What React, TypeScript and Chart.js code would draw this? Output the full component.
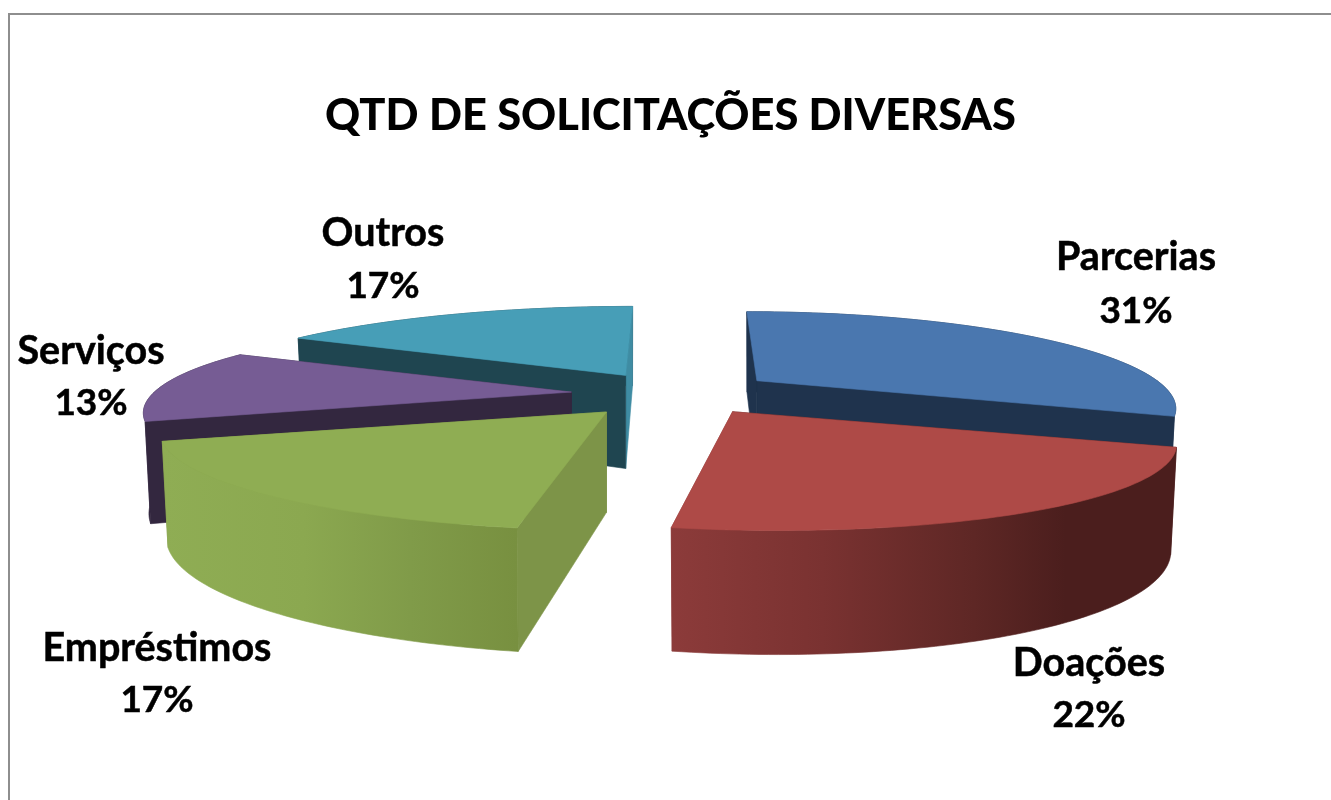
import React, { useEffect, useRef } from "react";
import { Chart, registerables } from "chart.js";

Chart.register(...registerables);

const categories = ["Parcerias", "Doações", "Empréstimos", "Serviços", "Outros"];
const shares = [31, 22, 17, 13, 17];
const chartTitle = "QTD DE SOLICITAÇÕES DIVERSAS";

// styles and 3D projection settings
const explode = [105, 130, 96, 99, 87];
const sliceLean = [0.145, 0.383, 0.176, 0.194, -0.1];
const sliceWiden = [0.953, 0.994, 1.033, 0.993, 1.015];
const sliceDrop = [1, -4, 5, 2, -1];
const topColors = ["#4A77AF", "#AE4A47", "#8FAD53", "#765C94", "#479EB7"];
const faceColors = [
  ["#1F334D", "#1F334D"],
  ["#4C1F1E", "#8A3A39"],
  ["#7D9448", "#7D9448"],
  ["#33273F", "#33273F"],
  ["#1F4550", "#3F8CA3"],
];
const wallStops: [number, string][][] = [
  [[0, "#1F334D"], [1, "#1F334D"]],
  [[0, "#8C3B3A"], [0.3, "#7A3231"], [0.6, "#5E2725"], [0.78, "#4B1E1D"], [1, "#4B1E1D"]],
  [[0, "#8FAD54"], [0.4, "#8BA850"], [0.7, "#809B49"], [1, "#789040"]],
  [[0, "#33273F"], [1, "#33273F"]],
  [[0, "#1F4550"], [1, "#1F4550"]],
];
const drawOrder = [4, 3, 0, 2, 1];
const labelAnchors = [
  [1136, 257, 311],
  [1089, 663, 715],
  [157, 648, 700],
  [91, 351, 403],
  [383, 233, 286],
];
const pivot = { x: 670, y: 392 };
const view = { radius: 420, tilt: 87.3, persp: 0.265, squash: 0.208 };

function locate(i: number, theta: number, rho: number, mid: number) {
  const off = explode[i];
  const ax = pivot.x + off * Math.sin(mid);
  const ay = pivot.y - off * Math.cos(mid) * view.squash + sliceDrop[i];
  const yn = -rho * Math.cos(theta);
  const w = 1 - view.persp * yn;
  const ly = (view.tilt * yn) / w;
  const lx = (sliceWiden[i] * view.radius * rho * Math.sin(theta)) / w + sliceLean[i] * ly;
  const top = { x: ax + lx, y: ay + ly };
  const h = 93 + (top.y - 375) * 0.2;
  const bottom = { x: ax + lx * 0.987, y: top.y + h };
  return { top, bottom };
}

function polygon(ctx: CanvasRenderingContext2D, pts: { x: number; y: number }[], fill: any) {
  ctx.beginPath();
  pts.forEach((p, n) => (n ? ctx.lineTo(p.x, p.y) : ctx.moveTo(p.x, p.y)));
  ctx.closePath();
  ctx.fillStyle = fill;
  ctx.strokeStyle = fill;
  ctx.lineWidth = 0.6;
  ctx.fill();
  ctx.stroke();
}

function samples(a: number, b: number) {
  const n = Math.max(2, Math.ceil(((b - a) * 180) / Math.PI));
  const out: number[] = [];
  for (let k = 0; k <= n; k++) out.push(a + ((b - a) * k) / n);
  return out;
}

const pie3d = {
  id: "pie3d",
  beforeDraw(chart: any) {
    const { ctx } = chart;
    ctx.save();
    ctx.fillStyle = "#ffffff";
    ctx.fillRect(0, 0, chart.width, chart.height);
    ctx.fillStyle = "#8E8E8E";
    ctx.fillRect(8, 13, chart.width - 8, 2);
    ctx.fillRect(8, 13, 2, chart.height - 13);
    ctx.restore();
  },
  beforeDatasetDraw() {
    return false;
  },
  afterDatasetsDraw(chart: any) {
    const { ctx } = chart;
    const arcs = chart.getDatasetMeta(0).data;
    ctx.save();
    drawOrder.forEach((i) => {
      const arc = arcs[i];
      const t0 = arc.startAngle + Math.PI / 2;
      const t1 = arc.endAngle + Math.PI / 2;
      const mid = (t0 + t1) / 2;
      const at = (t: number, rho = 1) => locate(i, t, rho, mid);
      const allX = samples(t0, t1).map((t) => at(t).top.x);
      const grad = ctx.createLinearGradient(Math.min(...allX), 0, Math.max(...allX), 0);
      wallStops[i].forEach(([s, c]) => grad.addColorStop(s, c));

      const cuts = [t0];
      [Math.PI / 2, (3 * Math.PI) / 2].forEach((c) => {
        if (c > t0 && c < t1) cuts.push(c);
      });
      cuts.push(t1);
      const ranges: [number, number][] = [];
      for (let k = 0; k < cuts.length - 1; k++) ranges.push([cuts[k], cuts[k + 1]]);
      const wall = ([a, b]: [number, number]) => {
        const s = samples(a, b);
        polygon(
          ctx,
          [...s.map((t) => at(t).top), ...s.slice().reverse().map((t) => at(t).bottom)],
          grad
        );
      };
      ranges.filter(([a, b]) => Math.cos((a + b) / 2) > 0).forEach(wall);

      const faces = [
        { t: t0, c: faceColors[i][0] },
        { t: t1, c: faceColors[i][1] },
      ].sort((p, q) => Math.cos(q.t) - Math.cos(p.t));
      faces.forEach(({ t, c }) => {
        polygon(ctx, [at(t, 0).top, at(t).top, at(t).bottom, at(t, 0).bottom], c);
      });

      ranges.filter(([a, b]) => Math.cos((a + b) / 2) <= 0).forEach(wall);

      const s = samples(t0, t1);
      polygon(ctx, [at(t0, 0).top, ...s.map((t) => at(t).top)], topColors[i]);
    });

    ctx.fillStyle = "#000000";
    ctx.strokeStyle = "#000000";
    ctx.lineWidth = 0.5;
    ctx.textAlign = "center";
    ctx.textBaseline = "middle";
    categories.forEach((name, i) => {
      const [x, y1, y2] = labelAnchors[i];
      ctx.font = 'bold 39.5px Lato, "Open Sans", sans-serif';
      ctx.fillText(name, x, y1);
      ctx.strokeText(name, x, y1);
      ctx.font = 'bold 37px Lato, "Open Sans", sans-serif';
      ctx.fillText(`${shares[i]}%`, x, y2);
      ctx.strokeText(`${shares[i]}%`, x, y2);
    });
    ctx.restore();
  },
};

export default function App() {
  const ref = useRef<HTMLCanvasElement>(null);
  useEffect(() => {
    const chart = new Chart(ref.current as HTMLCanvasElement, {
      type: "pie",
      data: {
        labels: categories,
        datasets: [{ data: shares, offset: explode, backgroundColor: topColors, borderWidth: 0 }],
      },
      options: {
        responsive: false,
        animation: false,
        layout: { padding: { left: 10 } },
        plugins: {
          legend: { display: false },
          tooltip: { enabled: false },
          title: {
            display: true,
            text: chartTitle,
            color: "#000000",
            font: { family: 'Lato, "Open Sans", sans-serif', size: 43.4, weight: "900" },
            padding: { top: 90, bottom: 10 },
          },
        },
      },
      plugins: [pie3d],
    } as any);
    return () => chart.destroy();
  }, []);
  return (
    <div style={{ position: "fixed", left: 0, top: 0, width: 1331, height: 800 }}>
      <canvas ref={ref} width={1331} height={800} style={{ display: "block" }} />
    </div>
  );
}
